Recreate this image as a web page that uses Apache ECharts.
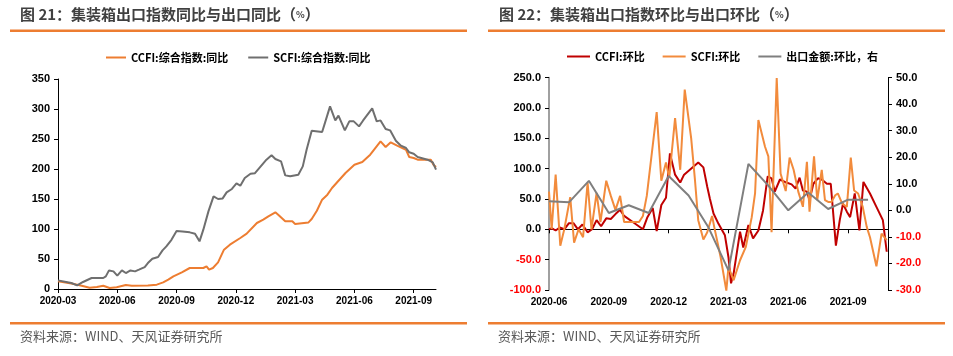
<!DOCTYPE html>
<html><head><meta charset="utf-8">
<script src="https://cdn.jsdelivr.net/npm/echarts@6/dist/echarts.min.js"></script>
<style>html,body{margin:0;padding:0;background:#fff}#c{width:953px;height:356px}</style>
</head><body><div id="c"></div>
<script>
// ---------- Left chart: YoY (weekly vertices) ----------
const ccfiYoYDates = ['2020-03-01','2020-03-22','2020-04-07','2020-04-19','2020-04-30','2020-05-10','2020-05-20','2020-05-31','2020-06-14','2020-06-23','2020-07-18','2020-08-01','2020-08-11','2020-08-19','2020-08-27','2020-09-09','2020-09-21','2020-10-12','2020-10-17','2020-10-21','2020-10-27','2020-11-04','2020-11-13','2020-11-22','2020-12-08','2020-12-18','2021-01-03','2021-01-13','2021-01-21','2021-02-01','2021-02-05','2021-02-15','2021-02-25','2021-03-01','2021-03-22','2021-03-27','2021-04-04','2021-04-12','2021-04-20','2021-04-27','2021-05-18','2021-06-01','2021-06-13','2021-06-25','2021-07-11','2021-07-19','2021-07-27','2021-08-06','2021-08-20','2021-08-25','2021-09-01','2021-09-07','2021-09-27','2021-10-01','2021-10-05'];
const ccfiYoY = [13,9,5.5,2.2,3.3,5.5,1.7,2.8,6.6,5.5,6,7.2,11,15.5,21,27.8,35,35,37.8,32.2,35,44.4,65.5,73.9,85,92.2,110,115.5,121,127.8,123.9,112.8,112.8,108.3,111,116.6,130.5,148.9,157.2,168.3,193.3,207.2,211.6,223.9,246.1,236.6,244.4,238.9,232,220,218.3,215.5,215.5,207.2,203.3];
const scfiYoYDates = ['2020-03-01','2020-03-22','2020-03-31','2020-04-09','2020-04-22','2020-05-10','2020-05-14','2020-05-19','2020-05-26','2020-06-01','2020-06-08','2020-06-14','2020-06-21','2020-06-28','2020-07-04','2020-07-13','2020-07-18','2020-07-25','2020-08-03','2020-08-10','2020-08-16','2020-08-24','2020-09-01','2020-09-10','2020-09-21','2020-09-29','2020-10-06','2020-10-12','2020-10-20','2020-10-28','2020-11-04','2020-11-11','2020-11-17','2020-11-25','2020-12-02','2020-12-08','2020-12-15','2020-12-24','2020-12-31','2021-01-08','2021-01-18','2021-01-26','2021-02-01','2021-02-09','2021-02-15','2021-02-22','2021-03-06','2021-03-13','2021-03-19','2021-03-27','2021-04-12','2021-04-17','2021-04-24','2021-05-02','2021-05-07','2021-05-17','2021-05-24','2021-05-31','2021-06-08','2021-06-14','2021-06-28','2021-07-05','2021-07-11','2021-07-19','2021-07-26','2021-08-04','2021-08-12','2021-08-20','2021-08-25','2021-09-01','2021-09-07','2021-09-22','2021-09-30','2021-10-05'];
const scfiYoY = [14.4,10,6.1,11.7,18.3,18.3,21,31,29.4,22.2,31,26.6,31,29.4,32.2,36.6,43.3,50.5,53.3,64.4,71,82,96.6,96,94.4,92.2,79.4,98.9,129.4,154.4,150,151,161,166.7,176,172.2,185,192,193,203,215.5,222.8,216.6,212.8,189.4,187.8,190.5,204.4,232,263.9,261.6,279.4,304.4,281,288.9,264.4,279.4,279.4,271,280.5,301,279.4,281,266.6,264.4,247.2,238.9,235,227.8,225.5,220,215.5,211,198.9];

// ---------- Right chart: MoM ----------
const ccfiMoMDates = ['2020-06-01','2020-06-05','2020-06-11','2020-06-17','2020-06-24','2020-07-01','2020-07-08','2020-07-15','2020-07-22','2020-07-30','2020-08-06','2020-08-13','2020-08-20','2020-08-28','2020-09-04','2020-09-11','2020-09-18','2020-09-24','2020-10-10','2020-10-23','2020-10-30','2020-11-07','2020-11-13','2020-11-20','2020-11-27','2020-12-03','2020-12-11','2020-12-19','2020-12-25','2021-01-16','2021-01-24','2021-01-30','2021-02-03','2021-02-08','2021-02-15','2021-02-24','2021-03-01','2021-03-05','2021-03-09','2021-03-19','2021-03-24','2021-04-01','2021-04-08','2021-04-16','2021-04-23','2021-04-30','2021-05-06','2021-05-11','2021-05-19','2021-05-29','2021-06-06','2021-06-12','2021-06-18','2021-06-23','2021-06-29','2021-07-03','2021-07-09','2021-07-13','2021-07-16','2021-07-22','2021-07-30','2021-08-05','2021-08-13','2021-08-19','2021-08-24','2021-08-30','2021-09-04','2021-09-11','2021-09-18','2021-09-24','2021-10-04','2021-10-14','2021-10-24','2021-10-30'];
const ccfiMoM = [0,2,-2,3,0,10,10,0,8,-5,0,15,5,18,17,25,32,22,10,0,20,35,-3,40,52,125,90,77,90,110,102,70,50,26,9,-10,-46,-89,-73,-4,-30,7,-15,-2,31,87,84,62,82,77,74,67,85,64,62,48,75,80,84,82,75,75,-27,15,42,29,20,59,-2,78,59,37,15,-37];
const scfiMoMDates = ['2020-06-01','2020-06-05','2020-06-11','2020-06-18','2020-06-24','2020-07-03','2020-07-09','2020-07-16','2020-07-23','2020-07-30','2020-08-05','2020-08-13','2020-08-19','2020-08-28','2020-09-04','2020-09-11','2020-09-18','2020-09-24','2020-10-10','2020-10-17','2020-10-23','2020-10-29','2020-11-13','2020-11-20','2020-11-27','2020-12-02','2020-12-11','2020-12-19','2020-12-26','2021-01-05','2021-01-11','2021-01-16','2021-01-24','2021-01-30','2021-02-06','2021-02-09','2021-02-18','2021-02-26','2021-03-01','2021-03-09','2021-03-19','2021-03-28','2021-04-06','2021-04-11','2021-04-16','2021-04-26','2021-05-01','2021-05-06','2021-05-14','2021-05-20','2021-05-28','2021-06-03','2021-06-09','2021-06-16','2021-06-23','2021-06-29','2021-07-03','2021-07-10','2021-07-15','2021-07-22','2021-07-27','2021-08-01','2021-08-06','2021-08-12','2021-08-16','2021-08-23','2021-08-30','2021-09-05','2021-09-10','2021-09-16','2021-09-23','2021-09-29','2021-10-04','2021-10-14','2021-10-22','2021-10-30'];
const scfiMoM = [62,0,90,-27,0,53,-22,0,-13,77,0,60,12,80,55,32,55,12,12,12,22,55,193,80,110,85,183,98,230,150,80,15,-17,-5,22,4,-46,-101,-62,-84,-51,-29,20,59,180,136,120,-5,249,92,63,118,98,62,37,111,29,120,48,98,48,45,45,56,59,42,37,118,64,59,37,4,-13,-61,-7,-18];
const exportMonths = ['2020-05','2020-06','2020-07','2020-08','2020-09','2020-10','2020-11','2020-12','2021-01','2021-02','2021-03','2021-04','2021-05','2021-06','2021-07','2021-08','2021-09'];
const exportMoM = [3.4,3.0,11.1,-1.0,1.9,-1.0,12.9,5.6,-6.5,-22.6,17.5,9.3,0.0,6.7,0.5,4.0,4.0];

// ---------- Axis ticks / labels ----------
const leftYTicks = [0, 350, 50];          // min, max, interval
const rightYLeftTicks = [-100, 250, 50];
const rightYRightTicks = [-30, 50, 10];
const leftBase = [2020, 3];   // x-axis origin month (2020-03)
const rightBase = [2020, 6];  // x-axis origin month (2020-06)
const leftXTickMonths = ['2020-03','2020-06','2020-09','2020-12','2021-03','2021-06','2021-09'];
const rightXTickMonths = ['2020-06','2020-09','2020-12','2021-03','2021-06','2021-09'];
const rightXEnd = '2021-11-01';

const seriesNames = {
  lc: 'CCFI:综合指数:同比', ls: 'SCFI:综合指数:同比',
  rc: 'CCFI:环比', rs: 'SCFI:环比', re: '出口金额:环比，右'
};

function monthPos(dateStr, base) {
  const p = dateStr.split('-').map(Number);
  const y = p[0], m = p[1], d = p.length > 2 ? p[2] : 1;
  const dim = new Date(Date.UTC(y, m, 0)).getUTCDate();
  return (y - base[0]) * 12 + (m - base[1]) + (d - 1) / dim;
}
function monthEndPos(monthStr, base) { return monthPos(monthStr, base) + 1; }
function posLabel(v, base) {
  const t = base[0] * 12 + (base[1] - 1) + Math.round(v);
  const y = Math.floor(t / 12), m = t % 12 + 1;
  return y + '-' + (m < 10 ? '0' + m : m);
}
function pairs(dates, vals, base) { return dates.map((d, i) => [monthPos(d, base), vals[i]]); }

const FONT = '"Liberation Sans", "Noto Sans CJK SC", sans-serif';
const CJK = '"Noto Sans CJK SC", "Liberation Sans", sans-serif';
const ORANGE_RULE = '#ED7D31';

const chart = echarts.init(document.getElementById('c'), null, {renderer: 'canvas'});

const leftXTicks = leftXTickMonths.map(s => monthPos(s, leftBase));
const rightXTicks = rightXTickMonths.map(s => monthPos(s, rightBase));
const leftData = ccfiYoYDates.concat(scfiYoYDates).map(d => monthPos(d, leftBase));
const leftXMax = Math.max.apply(null, leftData);

const axisLabelX = {fontSize: 10, fontWeight: 'bold', color: '#000', fontFamily: FONT};
const axisLabelY = {fontSize: 11, fontWeight: 'bold', color: '#000', fontFamily: FONT};

const option = {
  animation: false,
  backgroundColor: '#fff',
  textStyle: {fontFamily: FONT},
  legend: [
    {data: [seriesNames.lc, seriesNames.ls], left: 101, top: 47, icon: 'rect', itemWidth: 20, itemHeight: 2, itemGap: 20,
     textStyle: {fontSize: 11, fontWeight: 'bold', color: '#000', fontFamily: CJK}},
    {data: [seriesNames.rc, seriesNames.rs, seriesNames.re], left: 562, top: 46, icon: 'rect', itemWidth: 23, itemHeight: 2, itemGap: 18,
     textStyle: {fontSize: 11, fontWeight: 'bold', color: '#000', fontFamily: CJK}}
  ],
  grid: [
    {left: 58, top: 79, width: 378, height: 210, containLabel: false},
    {left: 549, top: 77.5, width: 339, height: 212.5, containLabel: false}
  ],
  xAxis: [
    {gridIndex: 0, type: 'value', min: 0, max: leftXMax, position: 'bottom',
     axisLine: {show: true, onZero: false, lineStyle: {color: '#000', width: 1}},
     axisTick: {show: true, length: 4, customValues: leftXTicks, lineStyle: {color: '#000'}},
     axisLabel: Object.assign({customValues: leftXTicks, margin: 7, formatter: v => posLabel(v, leftBase)}, axisLabelX),
     splitLine: {show: false}},
    {gridIndex: 1, type: 'value', min: 0, max: monthPos(rightXEnd, rightBase),
     axisLine: {show: true, onZero: true, onZeroAxisIndex: 1, lineStyle: {color: '#000', width: 1}},
     axisTick: {show: true, length: 4, customValues: rightXTicks, lineStyle: {color: '#000'}},
     axisLabel: {show: false},
     splitLine: {show: false}},
    {gridIndex: 1, type: 'value', min: 0, max: monthPos(rightXEnd, rightBase), position: 'bottom',
     axisLine: {show: false, onZero: false}, axisTick: {show: false},
     axisLabel: Object.assign({customValues: rightXTicks, margin: 7, formatter: v => posLabel(v, rightBase)}, axisLabelX),
     splitLine: {show: false}}
  ],
  yAxis: [
    {gridIndex: 0, type: 'value', min: leftYTicks[0], max: leftYTicks[1], interval: leftYTicks[2],
     axisLine: {show: true, lineStyle: {color: '#000'}},
     axisTick: {show: true, length: 4, lineStyle: {color: '#000'}},
     axisLabel: Object.assign({margin: 8}, axisLabelY), splitLine: {show: false}},
    {gridIndex: 1, type: 'value', position: 'left', min: rightYLeftTicks[0], max: rightYLeftTicks[1], interval: rightYLeftTicks[2],
     axisLine: {show: true, onZero: false, lineStyle: {color: '#808080', width: 1.5}},
     axisTick: {show: true, length: 4, lineStyle: {color: '#000'}},
     axisLabel: Object.assign({}, axisLabelY, {margin: 8, formatter: v => v.toFixed(1), color: v => (v < 0 ? '#FF0000' : '#000')}),
     splitLine: {show: false}},
    {gridIndex: 1, type: 'value', position: 'right', min: rightYRightTicks[0], max: rightYRightTicks[1], interval: rightYRightTicks[2],
     axisLine: {show: true, onZero: false, lineStyle: {color: '#000'}},
     axisTick: {show: true, length: 4, lineStyle: {color: '#000'}},
     axisLabel: Object.assign({}, axisLabelY, {margin: 8, formatter: v => v.toFixed(1), color: v => (v < 0 ? '#FF0000' : '#000')}),
     splitLine: {show: false}}
  ],
  series: [
    {name: seriesNames.lc, type: 'line', xAxisIndex: 0, yAxisIndex: 0, symbol: 'none', color: '#ED7D31',
     lineStyle: {width: 2, color: '#ED7D31'}, data: pairs(ccfiYoYDates, ccfiYoY, leftBase), z: 3},
    {name: seriesNames.ls, type: 'line', xAxisIndex: 0, yAxisIndex: 0, symbol: 'none', color: '#6F6F6F',
     lineStyle: {width: 2, color: '#6F6F6F'}, data: pairs(scfiYoYDates, scfiYoY, leftBase), z: 4},
    {name: seriesNames.rc, type: 'line', xAxisIndex: 1, yAxisIndex: 1, symbol: 'none', color: '#C00000',
     lineStyle: {width: 2, color: '#C00000'}, data: pairs(ccfiMoMDates, ccfiMoM, rightBase), z: 3},
    {name: seriesNames.rs, type: 'line', xAxisIndex: 1, yAxisIndex: 1, symbol: 'none', color: '#F28B3C',
     lineStyle: {width: 2, color: '#F28B3C'}, data: pairs(scfiMoMDates, scfiMoM, rightBase), z: 4},
    {name: seriesNames.re, type: 'line', xAxisIndex: 1, yAxisIndex: 2, symbol: 'none', color: '#7F7F7F',
     lineStyle: {width: 2, color: '#7F7F7F'}, data: exportMonths.map((m, i) => [monthEndPos(m, rightBase), exportMoM[i]]), z: 5}
  ],
  graphic: [
    {type: 'text', left: 20, top: 7, style: {text: '图 21：集装箱出口指数同比与出口同比（{s|%}）', fill: '#404040',
      font: 'bold 15px ' + CJK, rich: {s: {fontSize: 9, fontWeight: 'bold', fill: '#404040', fontFamily: CJK}}}},
    {type: 'text', left: 499, top: 7, style: {text: '图 22：集装箱出口指数环比与出口环比（{s|%}）', fill: '#404040',
      font: 'bold 15px ' + CJK, rich: {s: {fontSize: 9, fontWeight: 'bold', fill: '#404040', fontFamily: CJK}}}},
    {type: 'rect', shape: {x: 10, y: 29.5, width: 457, height: 2.5}, style: {fill: ORANGE_RULE}},
    {type: 'rect', shape: {x: 488, y: 29.5, width: 457, height: 2.5}, style: {fill: ORANGE_RULE}},
    {type: 'rect', shape: {x: 10, y: 322, width: 457, height: 2.5}, style: {fill: ORANGE_RULE}},
    {type: 'rect', shape: {x: 488, y: 322, width: 457, height: 2.5}, style: {fill: ORANGE_RULE}},
    {type: 'text', left: 20, top: 330, style: {text: '资料来源：WIND、天风证券研究所', fill: '#595959', font: '13px ' + CJK}},
    {type: 'text', left: 498, top: 330, style: {text: '资料来源：WIND、天风证券研究所', fill: '#595959', font: '13px ' + CJK}}
  ]
};
chart.setOption(option);
</script></body></html>
